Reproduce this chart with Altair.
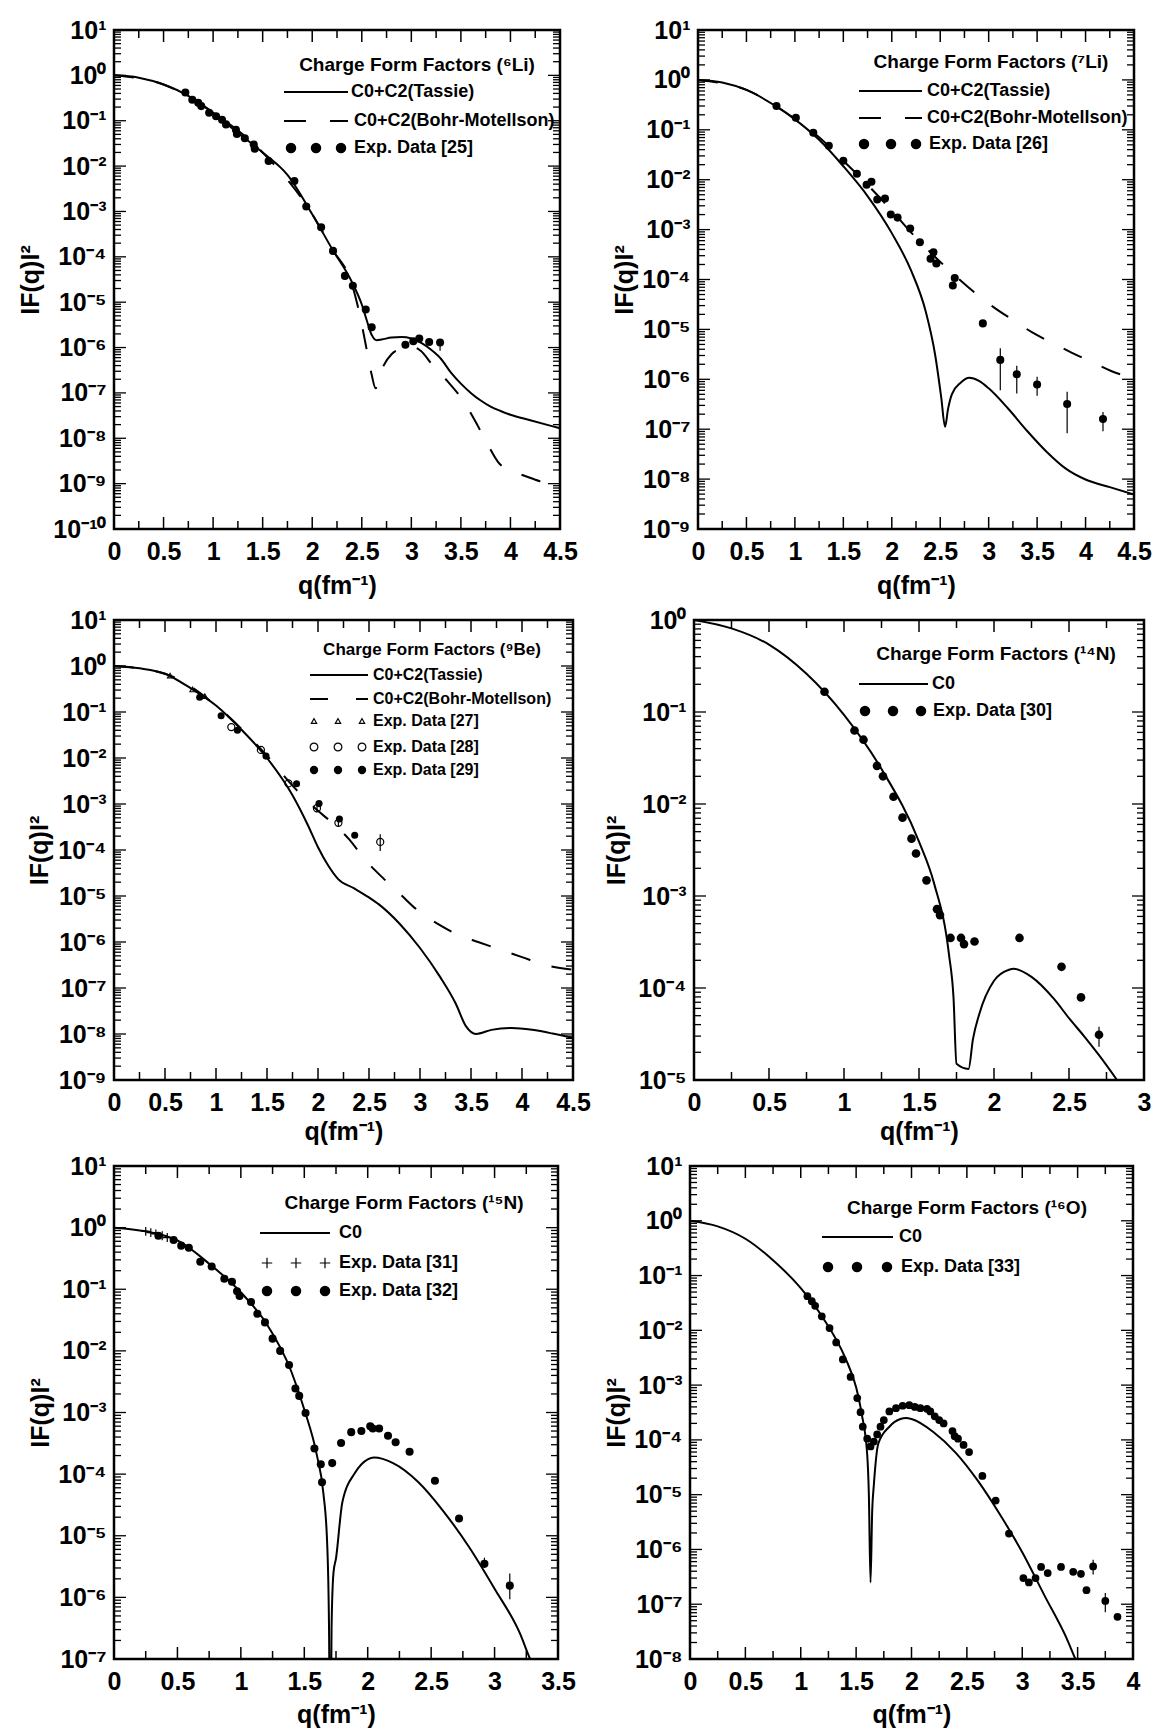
import altair as alt
import pandas as pd

FONT = "Liberation Sans"
SUP = str.maketrans("-0123456789", "⁻⁰¹²³⁴⁵⁶⁷⁸⁹")

# ---------------- 6Li ----------------
LI6_TASSIE_Q = [0, 0.25, 0.5, 0.75, 1.0, 1.25, 1.5, 1.75, 2.0, 2.2, 2.4, 2.5, 2.55, 2.6, 2.65, 2.7, 2.8, 2.9, 3.0, 3.1, 3.2, 3.3, 3.4, 3.5, 3.6, 3.7, 3.8, 3.9, 4.0, 4.2, 4.4, 4.5]
LI6_TASSIE_F = [1.0, 0.89, 0.63, 0.355, 0.151, 0.054, 0.020, 6.4e-3, 8.7e-4, 1.5e-4, 2.8e-5, 8.9e-6, 4.0e-6, 1.9e-6, 1.45e-6, 1.5e-6, 1.66e-6, 1.7e-6, 1.58e-6, 1.26e-6, 8.9e-7, 5.6e-7, 2.8e-7, 1.6e-7, 1.0e-7, 6.8e-8, 5.0e-8, 4.0e-8, 3.3e-8, 2.5e-8, 1.9e-8, 1.66e-8]
LI6_BM_Q = [0, 0.5, 1.0, 1.5, 2.0, 2.2, 2.4, 2.45, 2.5, 2.55, 2.6, 2.64, 2.68, 2.72, 2.8, 2.9, 3.0, 3.1, 3.2, 3.36, 3.5, 3.64, 3.76, 3.88, 4.0, 4.1, 4.3, 4.45]
LI6_BM_F = [1.0, 0.63, 0.151, 0.020, 8.7e-4, 1.5e-4, 2.5e-5, 1.0e-5, 3.2e-6, 8.9e-7, 2.5e-7, 1.26e-7, 2.5e-7, 4.0e-7, 7.1e-7, 9.5e-7, 1.05e-6, 8.3e-7, 4.5e-7, 1.86e-7, 7.9e-8, 2.5e-8, 8.1e-9, 2.9e-9, 1.9e-9, 1.6e-9, 1.12e-9, 8.9e-10]
LI6_EXP_Q = [0.72, 0.79, 0.85, 0.88, 0.96, 1.03, 1.09, 1.13, 1.23, 1.24, 1.32, 1.41, 1.42, 1.56, 1.82, 1.94, 2.09, 2.21, 2.33, 2.41, 2.54, 2.60, 2.94, 3.02, 3.08, 3.18, 3.29]
LI6_EXP_F = [0.42, 0.29, 0.25, 0.21, 0.15, 0.126, 0.105, 0.083, 0.063, 0.051, 0.041, 0.030, 0.024, 0.0129, 4.7e-3, 1.29e-3, 4.5e-4, 1.35e-4, 3.8e-5, 2.3e-5, 6.9e-6, 2.8e-6, 1.15e-6, 1.38e-6, 1.58e-6, 1.32e-6, 1.29e-6]
LI6_ERR_Q = [3.29]
LI6_ERR_LO = [8.5e-7]
LI6_ERR_HI = [1.5e-6]

# ---------------- 7Li ----------------
LI7_TASSIE_Q = [0, 0.25, 0.5, 0.8, 1.0, 1.25, 1.5, 1.75, 2.0, 2.2, 2.35, 2.45, 2.51, 2.55, 2.58, 2.62, 2.71, 2.8, 2.9, 3.0, 3.2, 3.4, 3.6, 3.8, 4.0, 4.25, 4.5]
LI7_TASSIE_F = [1.0, 0.89, 0.63, 0.30, 0.162, 0.063, 0.0186, 4.7e-3, 8.5e-4, 1.5e-4, 2.3e-5, 2.9e-6, 4.4e-7, 1.12e-7, 2.5e-7, 5.0e-7, 8.5e-7, 1.07e-6, 9.3e-7, 6.6e-7, 2.6e-7, 9.1e-8, 3.5e-8, 1.6e-8, 9.8e-9, 6.9e-9, 4.9e-9]
LI7_BM_Q = [0, 0.5, 1.0, 1.25, 1.5, 1.75, 2.0, 2.24, 2.45, 2.66, 2.86, 3.05, 3.26, 3.45, 3.67, 3.86, 4.07, 4.27, 4.42]
LI7_BM_F = [1.0, 0.63, 0.166, 0.071, 0.024, 7.9e-3, 2.4e-3, 7.2e-4, 2.8e-4, 1.17e-4, 5.4e-5, 2.8e-5, 1.5e-5, 8.7e-6, 5.2e-6, 3.4e-6, 2.2e-6, 1.45e-6, 1.15e-6]
LI7_EXP_Q = [0.81, 1.01, 1.19, 1.35, 1.50, 1.64, 1.74, 1.79, 1.85, 1.93, 1.99, 2.06, 2.19, 2.29, 2.40, 2.43, 2.46, 2.63, 2.65, 2.94, 3.12, 3.29, 3.50, 3.81, 4.18]
LI7_EXP_F = [0.30, 0.174, 0.087, 0.048, 0.024, 0.0132, 7.9e-3, 9.1e-3, 4.0e-3, 4.2e-3, 2.0e-3, 1.74e-3, 1.05e-3, 5.6e-4, 2.6e-4, 3.5e-4, 2.1e-4, 7.6e-5, 1.07e-4, 1.32e-5, 2.45e-6, 1.26e-6, 7.9e-7, 3.2e-7, 1.6e-7]
LI7_ERR_Q = [3.12, 3.29, 3.50, 3.81, 4.18]
LI7_ERR_LO = [6.0e-7, 5.2e-7, 4.7e-7, 8.3e-8, 9.1e-8]
LI7_ERR_HI = [4.2e-6, 1.86e-6, 1.12e-6, 5.6e-7, 2.2e-7]

# ---------------- 9Be ----------------
BE9_TASSIE_Q = [0, 0.25, 0.5, 0.75, 1.0, 1.25, 1.5, 1.75, 1.9, 2.0, 2.1, 2.2, 2.35, 2.5, 2.6, 2.8, 3.0, 3.2, 3.35, 3.45, 3.55, 3.7, 3.9, 4.1, 4.3, 4.5]
BE9_TASSIE_F = [1.0, 0.89, 0.68, 0.33, 0.138, 0.041, 0.010, 1.55e-3, 3.5e-4, 1.15e-4, 4.6e-5, 2.3e-5, 1.48e-5, 9.3e-6, 6.5e-6, 2.5e-6, 7.4e-7, 1.7e-7, 4.6e-8, 1.48e-8, 1.0e-8, 1.23e-8, 1.35e-8, 1.23e-8, 1.02e-8, 8.1e-9]
BE9_BM_Q = [0, 0.5, 1.0, 1.25, 1.5, 1.75, 2.0, 2.14, 2.31, 2.45, 2.65, 2.82, 2.98, 3.17, 3.37, 3.57, 3.79, 4.0, 4.22, 4.5]
BE9_BM_F = [1.0, 0.68, 0.138, 0.043, 0.0112, 2.5e-3, 7.1e-4, 3.9e-4, 1.66e-4, 6.6e-5, 2.3e-5, 1.02e-5, 4.8e-6, 2.5e-6, 1.45e-6, 1.0e-6, 6.8e-7, 4.7e-7, 3.2e-7, 2.5e-7]
BE9_EXP27_Q = [0.55, 0.77, 0.89]
BE9_EXP27_F = [0.62, 0.31, 0.22]
BE9_EXP28_Q = [1.15, 1.44, 1.71, 1.99, 2.20, 2.61]
BE9_EXP28_F = [0.047, 0.015, 2.8e-3, 8.1e-4, 3.9e-4, 1.5e-4]
BE9_EXP29_Q = [0.84, 1.05, 1.21, 1.49, 1.79, 2.01, 2.21, 2.36]
BE9_EXP29_F = [0.21, 0.083, 0.040, 0.011, 2.75e-3, 1.02e-3, 4.7e-4, 2.1e-4]
BE9_ERR_Q = [1.99, 2.20, 2.61]
BE9_ERR_LO = [6.5e-4, 3.3e-4, 9.5e-5]
BE9_ERR_HI = [1.0e-3, 4.6e-4, 2.2e-4]

# ---------------- 14N ----------------
N14_C0_Q = [0, 0.25, 0.5, 0.75, 1.0, 1.25, 1.5, 1.6, 1.7, 1.73, 1.75, 1.83, 1.86, 1.9, 2.0, 2.1, 2.13, 2.25, 2.4, 2.5, 2.6, 2.7, 2.82, 2.9]
N14_C0_F = [1.0, 0.81, 0.54, 0.26, 0.093, 0.024, 3.9e-3, 1.38e-3, 2.3e-4, 7.9e-5, 1.5e-5, 1.32e-5, 2.8e-5, 5.1e-5, 1.2e-4, 1.58e-4, 1.62e-4, 1.32e-4, 7.6e-5, 4.7e-5, 3.0e-5, 1.86e-5, 1.0e-5, 6.5e-6]
N14_EXP_Q = [0.87, 1.07, 1.13, 1.22, 1.26, 1.33, 1.39, 1.45, 1.48, 1.55, 1.62, 1.64, 1.71, 1.78, 1.80, 1.87, 2.17, 2.45, 2.58, 2.70]
N14_EXP_F = [0.166, 0.063, 0.050, 0.026, 0.020, 0.012, 7.1e-3, 4.2e-3, 2.9e-3, 1.48e-3, 7.2e-4, 6.2e-4, 3.5e-4, 3.5e-4, 3.0e-4, 3.2e-4, 3.5e-4, 1.7e-4, 7.9e-5, 3.1e-5]
N14_ERR_Q = [2.70]
N14_ERR_LO = [2.3e-5]
N14_ERR_HI = [3.8e-5]

# ---------------- 15N ----------------
N15_C0_Q = [0, 0.25, 0.5, 0.75, 1.0, 1.2, 1.4, 1.5, 1.6, 1.65, 1.68, 1.695, 1.705, 1.715, 1.73, 1.75, 1.8, 1.9, 2.0, 2.05, 2.2, 2.4, 2.6, 2.8, 3.0, 3.2, 3.28, 3.35]
N15_C0_F = [1.0, 0.87, 0.62, 0.26, 0.089, 0.028, 4.5e-3, 1.12e-3, 2.0e-4, 5.0e-5, 7.9e-6, 3.2e-7, 1e-9, 3.2e-7, 2.5e-6, 4.3e-6, 3.5e-5, 1.05e-4, 1.74e-4, 1.86e-4, 1.51e-4, 7.4e-5, 2.45e-5, 6.5e-6, 1.38e-6, 2.6e-7, 1.0e-7, 5e-8]
N15_EXP31_Q = [0.25, 0.29, 0.33, 0.38, 0.42]
N15_EXP31_F = [0.87, 0.83, 0.79, 0.74, 0.69]
N15_EXP32_Q = [0.35, 0.47, 0.53, 0.59, 0.68, 0.77, 0.87, 0.93, 0.97, 0.99, 1.08, 1.13, 1.19, 1.25, 1.31, 1.38, 1.43, 1.46, 1.51, 1.58, 1.63, 1.64, 1.72, 1.79, 1.87, 1.95, 2.02, 2.04, 2.09, 2.16, 2.22, 2.33, 2.53, 2.72, 2.92, 3.12]
N15_EXP32_F = [0.74, 0.63, 0.51, 0.47, 0.28, 0.234, 0.148, 0.132, 0.093, 0.078, 0.062, 0.040, 0.029, 0.0158, 0.010, 5.9e-3, 2.45e-3, 1.86e-3, 9.8e-4, 2.6e-4, 1.45e-4, 7.4e-5, 1.51e-4, 3.2e-4, 4.8e-4, 5.0e-4, 6.0e-4, 5.5e-4, 5.5e-4, 4.2e-4, 3.3e-4, 2.3e-4, 7.8e-5, 1.9e-5, 3.5e-6, 1.55e-6]
N15_ERR_Q = [2.92, 3.12]
N15_ERR_LO = [3.0e-6, 9.3e-7]
N15_ERR_HI = [4.4e-6, 2.45e-6]

# ---------------- 16O ----------------
O16_C0_Q = [0, 0.25, 0.5, 0.75, 1.0, 1.2, 1.4, 1.5, 1.55, 1.6, 1.615, 1.63, 1.645, 1.66, 1.7, 1.8, 1.9, 1.95, 2.0, 2.2, 2.4, 2.6, 2.8, 3.0, 3.2, 3.4, 3.48, 3.55]
O16_C0_F = [1.0, 0.79, 0.47, 0.19, 0.059, 0.017, 3.2e-3, 9.1e-4, 3.0e-4, 5.4e-5, 1.0e-5, 2.5e-7, 5e-6, 1.5e-5, 8.5e-5, 1.74e-4, 2.4e-4, 2.5e-4, 2.4e-4, 1.38e-4, 5.8e-5, 1.78e-5, 4.3e-6, 8.9e-7, 1.45e-7, 2.4e-8, 1.0e-8, 5e-9]
O16_EXP_Q = [1.06, 1.10, 1.13, 1.19, 1.26, 1.32, 1.38, 1.45, 1.51, 1.54, 1.56, 1.60, 1.63, 1.66, 1.69, 1.72, 1.75, 1.80, 1.86, 1.92, 1.98, 2.03, 2.08, 2.14, 2.17, 2.21, 2.25, 2.29, 2.37, 2.39, 2.42, 2.47, 2.52, 2.64, 2.76, 2.88, 3.01, 3.06, 3.12, 3.17, 3.23, 3.35, 3.46, 3.53, 3.58, 3.64, 3.75, 3.86]
O16_EXP_F = [0.042, 0.034, 0.028, 0.018, 0.011, 6.0e-3, 2.95e-3, 1.41e-3, 5.8e-4, 3.2e-4, 1.74e-4, 1.05e-4, 7.6e-5, 9.3e-5, 1.26e-4, 1.74e-4, 2.3e-4, 3.3e-4, 3.8e-4, 4.2e-4, 4.3e-4, 4.0e-4, 3.8e-4, 3.7e-4, 3.3e-4, 2.7e-4, 2.3e-4, 2.0e-4, 1.45e-4, 1.17e-4, 1.05e-4, 8.1e-5, 6.0e-5, 2.2e-5, 7.8e-6, 1.95e-6, 3.0e-7, 2.5e-7, 3.0e-7, 4.8e-7, 3.7e-7, 4.8e-7, 3.9e-7, 3.6e-7, 1.8e-7, 4.9e-7, 1.15e-7, 5.9e-8]
O16_ERR_Q = [3.53, 3.64, 3.75]
O16_ERR_LO = [3.0e-7, 3.5e-7, 7.1e-8]
O16_ERR_HI = [3.9e-7, 6.5e-7, 1.6e-7]

DASH = [20, 22]
ONE = pd.DataFrame({"k": [0]})


def dec(e):
    return float(f"1e{e}")


def y_label_expr(lo, hi):
    expr = "''"
    for e in range(lo, hi + 1):
        expr = f"(EXP == {e} ? '10{str(e).translate(SUP)}' : {expr})"
    return expr.replace("EXP", "round(log(datum.value) / LN10)")


def xy(q, f):
    return pd.DataFrame({"q": q, "f": f})


def panel(p):
    W, H = p["W"], p["H"]
    xmax, ylo, yhi = p["xmax"], p["ylo"], p["yhi"]
    xs = alt.Scale(domain=[0, xmax], nice=False, zero=False)
    ys = alt.Scale(type="log", domain=[dec(ylo), dec(yhi)], nice=False)
    xlab = [i * 0.5 for i in range(int(round(xmax / 0.5)) + 1)]
    xminor = [i * 0.5 + 0.25 for i in range(int(round(xmax / 0.5)))]
    ymaj = [dec(e) for e in range(ylo, yhi + 1)]
    ymin = [m * dec(e) for e in range(ylo, yhi) for m in range(2, 10)]

    x_lab = alt.Axis(values=xlab, format="~g", ticks=False, domain=False, grid=False,
                     labelFont=FONT, labelFontSize=25, labelFontWeight="bold", labelColor="black",
                     labelPadding=10, labelFlush=False,
                     title="q(fm⁻¹)", titleFont=FONT, titleFontSize=25, titleFontWeight="bold",
                     titleColor="black", titlePadding=p["xpad"])
    y_lab = alt.Axis(values=ymaj, labelExpr=y_label_expr(ylo, yhi), ticks=False,
                     domain=False, grid=False, labelFont=FONT, labelFontSize=25,
                     labelFontWeight="bold", labelColor="black", labelPadding=8,
                     title="IF(q)I²", titleFont=FONT, titleFontSize=25, titleFontWeight="bold",
                     titleColor="black", titlePadding=p["ypad"],
                     minExtent=p["yext"], maxExtent=p["yext"])

    # one shared x and y axis per panel
    X = alt.X("q:Q", scale=xs, axis=x_lab)
    Y = alt.Y("f:Q", scale=ys, axis=y_lab)

    layers = []
    for q, f, dash in p["lines"]:
        kw = dict(color="black", strokeWidth=2, interpolate="monotone", clip=True)
        if dash:
            kw["strokeDash"] = dash
        layers.append(alt.Chart(xy(q, f)).mark_line(**kw).encode(x=X, y=Y))

    # inward frame ticks, drawn through the scales
    for vals, ln in ((xlab, 12), (xminor, 8)):
        d = pd.DataFrame({"q": vals})
        layers.append(alt.Chart(d).mark_rule(color="black", strokeWidth=1.5).encode(
            x=X, y=alt.value(0), y2=alt.value(ln)))
        layers.append(alt.Chart(d).mark_rule(color="black", strokeWidth=1.5).encode(
            x=X, y=alt.value(H - ln), y2=alt.value(H)))
    for vals, ln in ((ymaj, 12), (ymin, 7)):
        d = pd.DataFrame({"f": vals})
        layers.append(alt.Chart(d).mark_rule(color="black", strokeWidth=1.3).encode(
            y=Y, x=alt.value(0), x2=alt.value(ln)))
        layers.append(alt.Chart(d).mark_rule(color="black", strokeWidth=1.3).encode(
            y=Y, x=alt.value(W - ln), x2=alt.value(W)))

    if p.get("err"):
        q, lo, hi = p["err"]
        layers.append(alt.Chart(pd.DataFrame({"f": lo, "q": q, "hi": hi})).mark_rule(
            color="black", strokeWidth=1.2, clip=True).encode(x=X, y=Y, y2="hi:Q"))

    def marker(kind, size):
        if kind == "dot":
            return dict(m="circle", kw=dict(size=size, color="black", opacity=1))
        if kind == "open":
            return dict(m="point", kw=dict(shape="circle", filled=False, size=size, color="black",
                                         strokeWidth=1.2, opacity=1))
        if kind == "tri":
            return dict(m="point", kw=dict(shape="triangle-up", filled=False, size=size,
                                         color="black", strokeWidth=1.1, opacity=1))
        return dict(m="point", kw=dict(shape="M-1,0L1,0M0,-1L0,1", filled=False, size=size,
                                     color="black", strokeWidth=1.2, opacity=1))

    def mk(chart, spec):
        if spec["m"] == "circle":
            return chart.mark_circle(**spec["kw"])
        return chart.mark_point(**spec["kw"])

    for q, f, kind, size in p["points"]:
        spec = marker(kind, size)
        spec["kw"]["clip"] = True
        layers.append(mk(alt.Chart(xy(q, f)), spec).encode(x=X, y=Y))

    # legend (inside the plot, top right)
    lg = p["legend"]
    t, cx, cy, fs = lg["title"]
    layers.append(alt.Chart(ONE).mark_text(text=t, align="center", baseline="middle", font=FONT,
                                           fontSize=fs, fontWeight="bold", color="black").encode(
        x=alt.value(cx), y=alt.value(cy)))
    lfs = lg["fs"]
    for ent in lg["entries"]:
        if ent[0] == "line":
            _, x1, x2, yy, dash, label, lx = ent
            kw = dict(color="black", strokeWidth=2)
            if dash:
                kw["strokeDash"] = dash
            layers.append(alt.Chart(ONE).mark_rule(**kw).encode(
                x=alt.value(x1), x2=alt.value(x2), y=alt.value(yy)))
        else:
            _, kind, xs_, yy, size, label, lx = ent
            for xx in xs_:
                spec = marker(kind, size)
                layers.append(mk(alt.Chart(ONE), spec).encode(x=alt.value(xx), y=alt.value(yy)))
        layers.append(alt.Chart(ONE).mark_text(text=label, align="left", baseline="middle",
                                               font=FONT, fontSize=lfs, fontWeight="bold",
                                               color="black").encode(
            x=alt.value(lx), y=alt.value(yy)))

    # invisible anchor that sets the left margin of the first column
    if p.get("lead"):
        layers.append(alt.Chart(ONE).mark_point(opacity=0, size=1).encode(
            x=alt.value(-p["lead"]), y=alt.value(H / 2)))

    return alt.layer(*layers).properties(width=W, height=H)


P1 = panel(dict(
    W=446, H=499, xmax=4.5, ylo=-10, yhi=1, yext=57, ypad=14, xpad=9,
    lines=[(LI6_TASSIE_Q, LI6_TASSIE_F, None), (LI6_BM_Q, LI6_BM_F, DASH)],
    points=[(LI6_EXP_Q, LI6_EXP_F, "dot", 65)],
    err=(LI6_ERR_Q, LI6_ERR_LO, LI6_ERR_HI),
    legend=dict(title=("Charge Form Factors (⁶Li)", 303, 35, 19), fs=18, entries=[
        ("line", 170, 234, 62, None, "C0+C2(Tassie)", 237),
        ("line", 170, 234, 91, [22, 24], "C0+C2(Bohr-Motellson)", 240),
        ("mark", "dot", [177, 202, 227], 118, 110, "Exp. Data [25]", 240),
    ])))

P2 = panel(dict(
    W=436, H=499, xmax=4.5, ylo=-9, yhi=1, yext=50, ypad=11, xpad=9,
    lines=[(LI7_TASSIE_Q, LI7_TASSIE_F, None), (LI7_BM_Q, LI7_BM_F, DASH)],
    points=[(LI7_EXP_Q, LI7_EXP_F, "dot", 65)],
    err=(LI7_ERR_Q, LI7_ERR_LO, LI7_ERR_HI),
    legend=dict(title=("Charge Form Factors (⁷Li)", 293, 32, 19), fs=18, entries=[
        ("line", 161, 224, 61, None, "C0+C2(Tassie)", 229),
        ("line", 161, 224, 88, [22, 24], "C0+C2(Bohr-Motellson)", 229),
        ("mark", "dot", [166, 193, 218], 114, 110, "Exp. Data [26]", 231),
    ])))

P3 = panel(dict(
    W=459, H=460, xmax=4.5, ylo=-9, yhi=1, yext=50, ypad=12, xpad=4,
    lines=[(BE9_TASSIE_Q, BE9_TASSIE_F, None), (BE9_BM_Q, BE9_BM_F, DASH)],
    points=[(BE9_EXP27_Q, BE9_EXP27_F, "tri", 28), (BE9_EXP28_Q, BE9_EXP28_F, "open", 50),
            (BE9_EXP29_Q, BE9_EXP29_F, "dot", 50)],
    err=(BE9_ERR_Q, BE9_ERR_LO, BE9_ERR_HI),
    legend=dict(title=("Charge Form Factors (⁹Be)", 318, 30, 17), fs=16, entries=[
        ("line", 196, 254, 55, None, "C0+C2(Tassie)", 259),
        ("line", 196, 254, 79, [18, 28], "C0+C2(Bohr-Motellson)", 259),
        ("mark", "tri", [200, 224, 248], 101, 30, "Exp. Data [27]", 259),
        ("mark", "open", [200, 224, 248], 127, 60, "Exp. Data [28]", 259),
        ("mark", "dot", [200, 224, 248], 150, 70, "Exp. Data [29]", 259),
    ])))

P4 = panel(dict(
    W=450, H=460, xmax=3, ylo=-5, yhi=0, yext=50, ypad=15, xpad=4,
    lines=[(N14_C0_Q, N14_C0_F, None)],
    points=[(N14_EXP_Q, N14_EXP_F, "dot", 75)],
    err=(N14_ERR_Q, N14_ERR_LO, N14_ERR_HI),
    legend=dict(title=("Charge Form Factors (¹⁴N)", 302, 34, 19), fs=18, entries=[
        ("line", 165, 234, 64, None, "C0", 238),
        ("mark", "dot", [171, 199, 227], 91, 110, "Exp. Data [30]", 239),
    ])))

P5 = panel(dict(
    W=444, H=493, xmax=3.5, ylo=-7, yhi=1, yext=50, ypad=11, xpad=8, lead=104,
    lines=[(N15_C0_Q, N15_C0_F, None)],
    points=[(N15_EXP31_Q, N15_EXP31_F, "cross", 80), (N15_EXP32_Q, N15_EXP32_F, "dot", 65)],
    err=(N15_ERR_Q, N15_ERR_LO, N15_ERR_HI),
    legend=dict(title=("Charge Form Factors (¹⁵N)", 290, 37, 19), fs=18, entries=[
        ("line", 146, 216, 67, None, "C0", 225),
        ("mark", "cross", [153, 182, 211], 97, 110, "Exp. Data [31]", 225),
        ("mark", "dot", [153, 182, 211], 125, 110, "Exp. Data [32]", 225),
    ])))

P6 = panel(dict(
    W=443, H=493, xmax=4, ylo=-8, yhi=1, yext=50, ypad=11, xpad=8,
    lines=[(O16_C0_Q, O16_C0_F, None)],
    points=[(O16_EXP_Q, O16_EXP_F, "dot", 60)],
    err=(O16_ERR_Q, O16_ERR_LO, O16_ERR_HI),
    legend=dict(title=("Charge Form Factors (¹⁶O)", 277, 42, 19), fs=18, entries=[
        ("line", 132, 203, 71, None, "C0", 209),
        ("mark", "dot", [138, 167, 197], 101, 110, "Exp. Data [33]", 211),
    ])))

row1 = alt.hconcat(P1, P2, spacing=31)
row2 = alt.hconcat(P3, P4, spacing=10)
row3 = alt.hconcat(P5, P6, spacing=25)

chart = alt.vconcat(row1, row2, row3, spacing=6).properties(
    padding={"left": 0, "top": 8, "right": 0, "bottom": 0}, background="white"
).configure_view(stroke="black", strokeWidth=2.5)

chart.save("out.html", embed_options={"renderer": "svg", "actions": False})
